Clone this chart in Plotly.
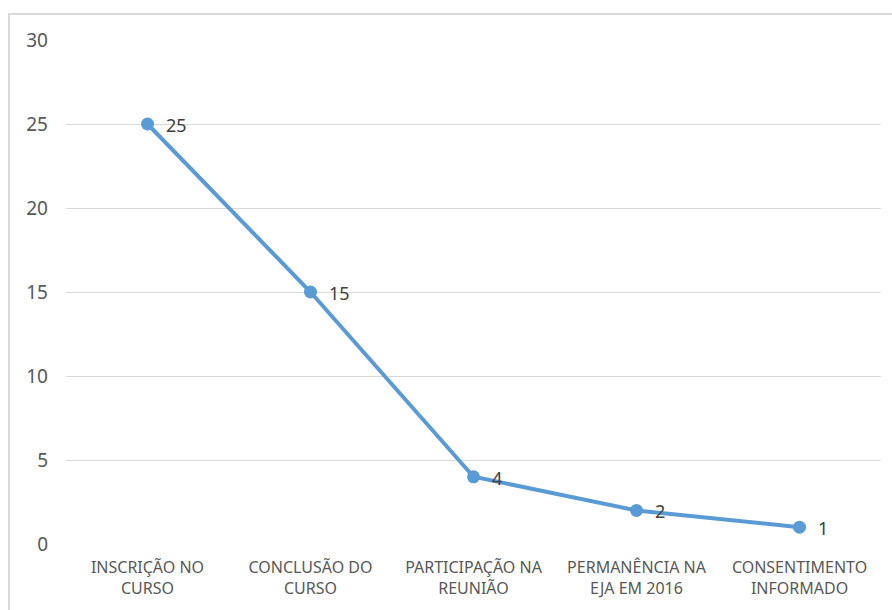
import plotly.graph_objects as go

categories = [
    "INSCRIÇÃO NO<br>CURSO",
    "CONCLUSÃO DO<br>CURSO",
    "PARTICIPAÇÃO NA<br>REUNIÃO",
    "PERMANÊNCIA NA<br>EJA EM 2016",
    "CONSENTIMENTO<br>INFORMADO",
]
values = [25, 15, 4, 2, 1]
y_ticks = [0, 5, 10, 15, 20, 25, 30]

W, H = 892, 610
ML, MR, MT, MB = 66, 11, 40, 66
pw, ph = W - ML - MR, H - MT - MB

fig = go.Figure()
fig.add_trace(go.Scatter(
    x=categories,
    y=values,
    mode="lines+markers",
    line=dict(color="#5b9bd5", width=4),
    marker=dict(color="#5b9bd5", size=13),
    cliponaxis=False,
    hoverinfo="x+y",
))

# value labels to the right of each point
for c, v in zip(categories, values):
    fig.add_annotation(
        x=c, y=v, text=str(v), showarrow=False,
        xanchor="left", yanchor="middle", xshift=16, yshift=-1,
        font=dict(family="Noto Sans", size=18, color="#404040"),
    )

# outer chart frame
fig.add_shape(
    type="rect", xref="paper", yref="paper",
    x0=(9 - ML) / pw, x1=(W + 20 - ML) / pw,
    y0=-(H + 20 - MT - ph) / ph, y1=(H - 14 - MB) / ph,
    line=dict(color="#d9d9d9", width=2), fillcolor="rgba(0,0,0,0)",
    layer="below",
)

fig.update_layout(
    width=W, height=H,
    margin=dict(l=ML, r=MR, t=MT, b=MB),
    paper_bgcolor="white", plot_bgcolor="white",
    showlegend=False,
    font=dict(family="Noto Sans", color="#595959"),
    xaxis=dict(
        type="category", showgrid=False, zeroline=False, showline=False,
        ticks="", tickfont=dict(size=16, color="#595959"),
        ticklabelstandoff=12, range=[-0.5, 4.5],
    ),
    yaxis=dict(
        range=[0, 30], tickvals=y_ticks, showgrid=True, gridcolor="#d9d9d9",
        gridwidth=1, zeroline=False, showline=False, ticks="",
        tickfont=dict(size=19, color="#595959"), ticklabelstandoff=17,
    ),
)

fig.write_html("out.html")
